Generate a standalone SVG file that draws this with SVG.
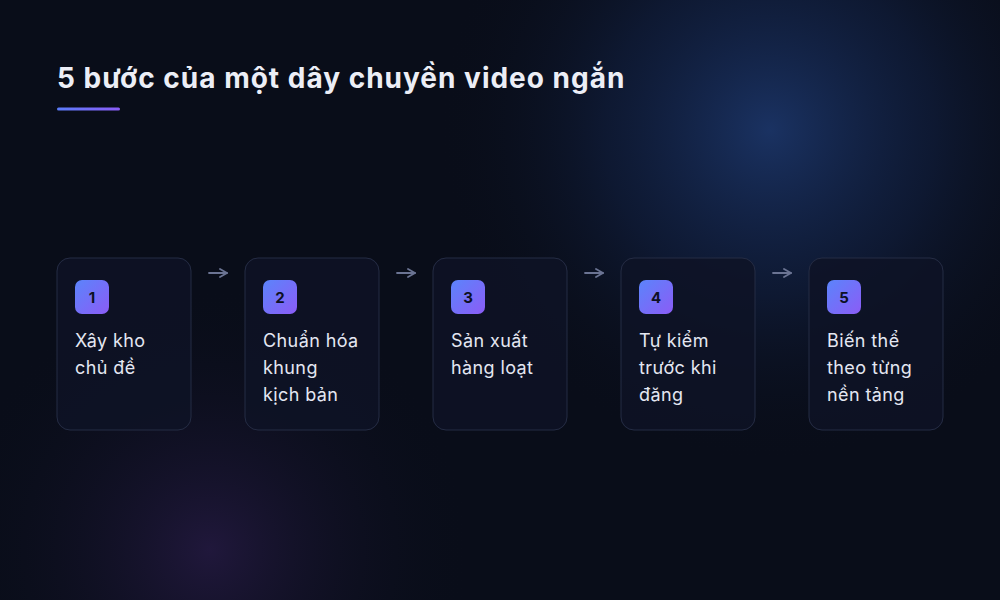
<svg xmlns="http://www.w3.org/2000/svg" width="1000" height="600" viewBox="0 0 1000 600">
<defs>
<radialGradient id="glowBlue" cx="770" cy="130" r="330" gradientUnits="userSpaceOnUse">
<stop offset="0" stop-color="#1b3466" stop-opacity="0.95"/>
<stop offset="0.5" stop-color="#13244a" stop-opacity="0.5"/>
<stop offset="1" stop-color="#0a0e1a" stop-opacity="0"/>
</radialGradient>
<radialGradient id="glowPurple" cx="210" cy="550" r="260" gradientUnits="userSpaceOnUse">
<stop offset="0" stop-color="#2a1c4a" stop-opacity="0.7"/>
<stop offset="1" stop-color="#0a0e1a" stop-opacity="0"/>
</radialGradient>
<linearGradient id="badge" x1="0" y1="0" x2="1" y2="1">
<stop offset="0" stop-color="#5b84fb"/>
<stop offset="1" stop-color="#8b5cf6"/>
</linearGradient>
<linearGradient id="underline" x1="0" y1="0" x2="1" y2="0">
<stop offset="0" stop-color="#5b7cfa"/>
<stop offset="1" stop-color="#8b5cf6"/>
</linearGradient>
<marker id="arrowhead" viewBox="0 0 10 10" refX="9" refY="5" markerWidth="10" markerHeight="10" markerUnits="userSpaceOnUse" orient="auto">
<path d="M2,1 L9,5 L2,9" fill="none" stroke="#6b7493" stroke-width="1.8" stroke-linecap="round" stroke-linejoin="round"/>
</marker>
<style>
.card{fill:#0e1326;fill-opacity:0.85;stroke:#252c44;stroke-width:1}
.badge{fill:url(#badge)}
.num{font-family:"Inter","Liberation Sans",sans-serif;font-size:15px;font-weight:700;fill:#0d1024;text-anchor:middle}
.label{font-family:"Inter","Liberation Sans",sans-serif;font-size:18px;letter-spacing:0.4px;fill:#e4e7f2}
.title{font-family:"Inter","Liberation Sans",sans-serif;font-size:28px;font-weight:700;letter-spacing:1px;fill:#eceef6}
.conn{stroke:#6b7493;stroke-width:1.8;fill:none;stroke-linecap:round;marker-end:url(#arrowhead)}
</style>
</defs>
<rect width="1000" height="600" fill="#090d19"/>
<rect width="1000" height="600" fill="url(#glowBlue)"/>
<rect width="1000" height="600" fill="url(#glowPurple)"/>
<text class="title" x="57" y="88">5 bước của một dây chuyền video ngắn</text>
<rect x="57" y="107.5" width="63" height="3" rx="1.5" fill="url(#underline)"/>
<g id="connectors">
<line class="conn" x1="209" y1="273" x2="227" y2="273"/>
<line class="conn" x1="397" y1="273" x2="415" y2="273"/>
<line class="conn" x1="585" y1="273" x2="603" y2="273"/>
<line class="conn" x1="773" y1="273" x2="791" y2="273"/>
</g>
<g id="step1">
<rect class="card" x="57" y="258" width="134" height="172" rx="13"/>
<rect class="badge" x="75" y="280" width="34" height="34" rx="7"/>
<text class="num" x="92" y="302.5">1</text>
<text class="label" x="75" y="347">Xây kho</text>
<text class="label" x="75" y="374">chủ đề</text>
</g>
<g id="step2">
<rect class="card" x="245" y="258" width="134" height="172" rx="13"/>
<rect class="badge" x="263" y="280" width="34" height="34" rx="7"/>
<text class="num" x="280" y="302.5">2</text>
<text class="label" x="263" y="347">Chuẩn hóa</text>
<text class="label" x="263" y="374">khung</text>
<text class="label" x="263" y="401">kịch bản</text>
</g>
<g id="step3">
<rect class="card" x="433" y="258" width="134" height="172" rx="13"/>
<rect class="badge" x="451" y="280" width="34" height="34" rx="7"/>
<text class="num" x="468" y="302.5">3</text>
<text class="label" x="451" y="347">Sản xuất</text>
<text class="label" x="451" y="374">hàng loạt</text>
</g>
<g id="step4">
<rect class="card" x="621" y="258" width="134" height="172" rx="13"/>
<rect class="badge" x="639" y="280" width="34" height="34" rx="7"/>
<text class="num" x="656" y="302.5">4</text>
<text class="label" x="639" y="347">Tự kiểm</text>
<text class="label" x="639" y="374">trước khi</text>
<text class="label" x="639" y="401">đăng</text>
</g>
<g id="step5">
<rect class="card" x="809" y="258" width="134" height="172" rx="13"/>
<rect class="badge" x="827" y="280" width="34" height="34" rx="7"/>
<text class="num" x="844" y="302.5">5</text>
<text class="label" x="827" y="347">Biến thể</text>
<text class="label" x="827" y="374">theo từng</text>
<text class="label" x="827" y="401">nền tảng</text>
</g>
</svg>
